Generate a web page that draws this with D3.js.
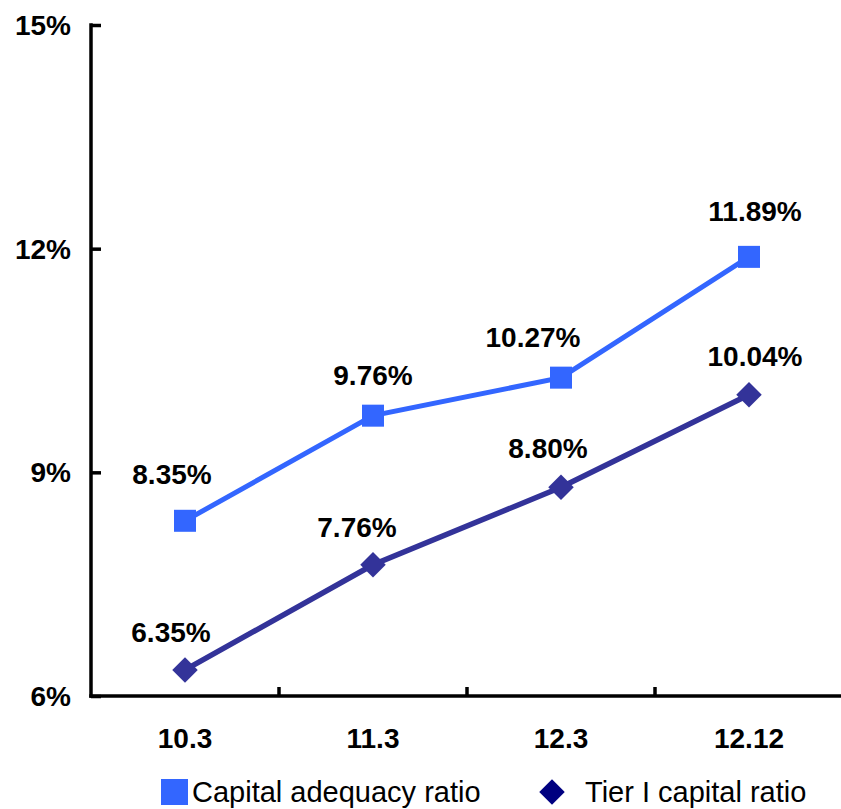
<!DOCTYPE html>
<html>
<head>
<meta charset="utf-8">
<script src="https://cdn.jsdelivr.net/npm/d3@7/dist/d3.min.js"></script>
<style>
  html, body { margin: 0; padding: 0; background: #fff; }
  svg { display: block; font-family: "Liberation Sans", Arial, sans-serif; }
</style>
</head>
<body>
<svg id="chart" width="841" height="809"></svg>
<script>
// Reporting periods and ratios (%)
const periods = ["10.3", "11.3", "12.3", "12.12"];
const capitalAdequacy = [8.35, 9.76, 10.27, 11.89];
const tier1 = [6.35, 7.76, 8.80, 10.04];
const yTicks = [6, 9, 12, 15];
const seriesNames = ["Capital adequacy ratio", "Tier I capital ratio"];

// Label nudges (dx, dy from the point) so labels sit clear of the lines
const capLabelShift = [[-13, -37], [0, -31], [-28, -31], [6, -36]];
const tierLabelShift = [[-14, -28], [-16, -28], [-13, -29], [6, -29]];

const svg = d3.select("#chart");
const plotLeft = 91, plotRight = 843, plotTop = 25, plotBottom = 696;

const x = d3.scaleBand().domain(periods).range([plotLeft, plotRight]);
const y = d3.scaleLinear().domain([6, 15]).range([plotBottom, plotTop]);
const cx = d => x(d) + x.bandwidth() / 2;

const blue = "#3366ff", navy = "#333399", legendNavy = "#000080";

// Y axis ticks (pointing into the plot)
const yAxis = svg.append("g").attr("transform", `translate(${plotLeft},0)`)
  .call(d3.axisRight(y).tickValues(yTicks).tickSize(10).tickFormat(""));
yAxis.select(".domain").remove();
yAxis.selectAll(".tick line").attr("stroke", "#000").attr("stroke-width", 3.5);

// Category boundary ticks on the x axis
const boundaries = periods.slice(1).map(p => x(p));
svg.selectAll(".xtick").data(boundaries).join("line")
  .attr("class", "xtick")
  .attr("x1", d => d).attr("x2", d => d)
  .attr("y1", plotBottom).attr("y2", plotBottom - 9)
  .attr("stroke", "#000").attr("stroke-width", 3.5);

// Axis lines
svg.append("line").attr("x1", plotLeft).attr("x2", plotLeft)
  .attr("y1", plotTop - 1.75).attr("y2", plotBottom + 1.75)
  .attr("stroke", "#000").attr("stroke-width", 3.5);
svg.append("line").attr("x1", plotLeft - 1.75).attr("x2", 841)
  .attr("y1", plotBottom).attr("y2", plotBottom)
  .attr("stroke", "#000").attr("stroke-width", 3.5);

// Y tick labels
svg.selectAll(".ylab").data(yTicks).join("text")
  .attr("class", "ylab")
  .attr("x", 71).attr("y", d => y(d)).attr("dy", "0.36em")
  .attr("text-anchor", "end").attr("font-weight", "bold").attr("font-size", 28)
  .text(d => d + "%");

// X tick labels
svg.selectAll(".xlab").data(periods).join("text")
  .attr("class", "xlab")
  .attr("x", d => cx(d)).attr("y", 748)
  .attr("text-anchor", "middle").attr("font-weight", "bold").attr("font-size", 28)
  .text(d => d);

// Lines
const line = d3.line().x((d, i) => cx(periods[i])).y(d => y(d));
svg.append("path").datum(capitalAdequacy).attr("d", line)
  .attr("fill", "none").attr("stroke", blue).attr("stroke-width", 5);
svg.append("path").datum(tier1).attr("d", line)
  .attr("fill", "none").attr("stroke", navy).attr("stroke-width", 5.5);

// Markers
const sq = 22;
svg.selectAll(".sq").data(capitalAdequacy).join("rect")
  .attr("class", "sq")
  .attr("x", (d, i) => cx(periods[i]) - sq / 2)
  .attr("y", d => y(d) - sq / 2)
  .attr("width", sq).attr("height", sq).attr("fill", blue);

const diamond = d3.symbol().type(d3.symbolSquare).size(18 * 18);
svg.selectAll(".dia").data(tier1).join("path")
  .attr("class", "dia")
  .attr("d", diamond)
  .attr("transform", (d, i) => `translate(${cx(periods[i])},${y(d)}) rotate(45)`)
  .attr("fill", navy);

// Value labels
svg.selectAll(".caplab").data(capitalAdequacy).join("text")
  .attr("class", "caplab")
  .attr("x", (d, i) => cx(periods[i]) + capLabelShift[i][0])
  .attr("y", (d, i) => y(d) + capLabelShift[i][1])
  .attr("text-anchor", "middle").attr("font-weight", "bold").attr("font-size", 28)
  .text(d => d.toFixed(2) + "%");
svg.selectAll(".tierlab").data(tier1).join("text")
  .attr("class", "tierlab")
  .attr("x", (d, i) => cx(periods[i]) + tierLabelShift[i][0])
  .attr("y", (d, i) => y(d) + tierLabelShift[i][1])
  .attr("text-anchor", "middle").attr("font-weight", "bold").attr("font-size", 28)
  .text(d => d.toFixed(2) + "%");

// Legend
const legend = svg.append("g");
legend.append("rect").attr("x", 161).attr("y", 779).attr("width", 27).attr("height", 26).attr("fill", blue);
legend.append("text").attr("x", 192).attr("y", 802).attr("font-size", 29).attr("fill", "#000")
  .text(seriesNames[0]);
legend.append("path").attr("d", d3.symbol().type(d3.symbolSquare).size(18 * 18))
  .attr("transform", "translate(552,792) rotate(45)").attr("fill", legendNavy);
legend.append("text").attr("x", 585).attr("y", 802).attr("font-size", 29).attr("fill", "#000")
  .text(seriesNames[1]);
</script>
</body>
</html>
